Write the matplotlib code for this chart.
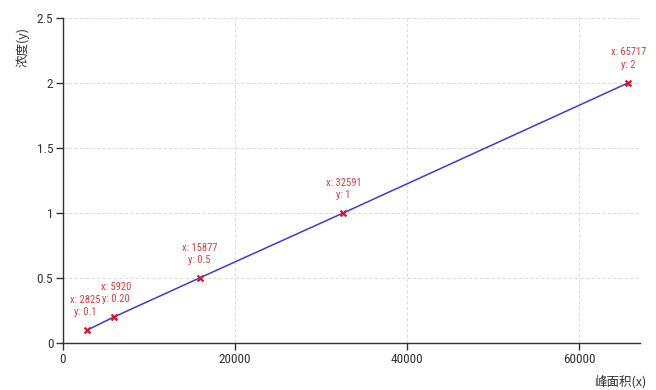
import matplotlib.pyplot as plt
from matplotlib import font_manager

plt.rcParams['font.family'] = ['Noto Sans CJK SC', 'DejaVu Sans']

# calibration points: peak area vs concentration
peak_area = [2825, 5920, 15877, 32591, 65717]
concentration = [0.1, 0.2, 0.5, 1, 2]
point_labels = ['x: 2825\ny: 0.1', 'x: 5920\ny: 0.20', 'x: 15877\ny: 0.5',
                'x: 32591\ny: 1', 'x: 65717\ny: 2']
label_shift = [-1.5, 1.5, 0, 0, 0]

x_ticks = [0, 20000, 40000, 60000]
y_ticks = [0, 0.5, 1, 1.5, 2, 2.5]
y_tick_labels = ['0', '0.5', '1', '1.5', '2', '2.5']

# pick a narrow face for numbers if one is installed
installed = {f.name for f in font_manager.fontManager.ttflist}
narrow_fam = 'DejaVu Sans'
for cand in ['Liberation Sans Narrow', 'Roboto Condensed', 'Open Sans Condensed']:
    if cand in installed:
        narrow_fam = cand
        break
num_font = dict(family=[narrow_fam, 'DejaVu Sans'], stretch='condensed')

fig = plt.figure(figsize=(6.56, 3.9), dpi=100)
ax = fig.add_axes([0.096, 0.1205, 0.88, 0.834])

ax.plot(peak_area, concentration, color='#3a3ae0', linewidth=1.1, zorder=2)
ax.scatter(peak_area, concentration, marker='x', color='#e0102a', s=18,
           linewidths=1.6, zorder=3)

for px, py, txt, dx in zip(peak_area, concentration, point_labels, label_shift):
    ax.annotate(txt, (px, py), xytext=(dx, 9), textcoords='offset points',
                ha='center', va='bottom', color='#e03a3a', fontsize=7.6,
                linespacing=1.35, **num_font)

ax.set_xlim(0, 67100)
ax.set_ylim(0, 2.5)
ax.set_xticks(x_ticks)
ax.set_yticks(y_ticks)
ax.set_yticklabels(y_tick_labels)

ax.grid(True, color='#dddddd', linestyle=(0, (3, 2)), linewidth=0.8)
ax.set_axisbelow(True)
for side in ['top', 'right']:
    ax.spines[side].set_visible(False)
for side in ['left', 'bottom']:
    ax.spines[side].set_color('#333333')
    ax.spines[side].set_linewidth(1.0)

ax.tick_params(colors='#333333', labelsize=9.5, length=5, width=1, pad=2)
for lab in ax.get_xticklabels() + ax.get_yticklabels():
    lab.set_family(num_font['family'])
    lab.set_stretch('condensed')

# axis titles sit at the corners rather than centered
fig.text(0.034, 0.88, '浓度(y)', rotation=90, ha='center', va='center',
         fontsize=9, color='#333333')
fig.text(0.945, 0.022, '峰面积(x)', ha='center', va='center',
         fontsize=9, color='#333333')

fig.savefig('out.png', dpi=100)
